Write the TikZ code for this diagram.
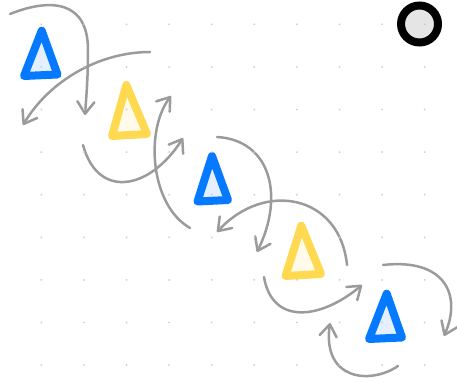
\documentclass[tikz,border=0pt]{standalone}
\usetikzlibrary{arrows.meta}

\definecolor{triblue}{RGB}{5,122,255}
\definecolor{triyellow}{RGB}{255,218,80}
\definecolor{paleblue}{RGB}{228,239,255}
\definecolor{paleyellow}{RGB}{255,250,234}
\definecolor{arrgray}{RGB}{155,155,155}

\begin{document}
\begin{tikzpicture} [x=1pt, y=-1pt,
  bluetri/.style={draw=triblue, fill=paleblue, line width=8pt, line join=round},
  yellowtri/.style={draw=triyellow, fill=paleyellow, line width=8pt, line join=round},
  arr/.style={arrgray, line width=2.5pt, line cap=round, -{Straight Barb[length=12pt, width=17pt, round]}}]
\useasboundingbox (0,0) rectangle (457,382);

\draw[black, line width=8pt, fill={rgb,255:red,229;green,229;blue,229}] (419.5,24) circle (18.5);

\draw[bluetri] (41.7,30.7) -- (24,76) -- (57.5,74.5) -- cycle;
\draw[yellowtri] (126.3,85) -- (112,136) -- (147,134) -- cycle;
\draw[bluetri] (212,156) -- (197.5,201.5) -- (228,200) -- cycle;
\draw[yellowtri] (301.3,225.7) -- (285.5,276) -- (321,274) -- cycle;
\draw[bluetri] (386.7,293.7) -- (369,339) -- (402,337.5) -- cycle;

\draw[arr] (10,14) .. controls (50,-2) and (88,0) .. (88,50) .. controls (88,80) and (86,100) .. (85,115);
\draw[arr] (150,52) .. controls (100,52) and (50,80) .. (23,125);
\draw[arr] (83,145) .. controls (98,200) and (150,190) .. (183,138);
\draw[arr] (190,228) .. controls (150,205) and (145,130) .. (171,96);
\draw[arr] (217,137) .. controls (270,140) and (285,195) .. (257,252);
\draw[arr] (347,265) .. controls (340,195) and (265,180) .. (217,232);
\draw[arr] (264,277) .. controls (272,325) and (320,320) .. (362,285);
\draw[arr] (383,265) .. controls (445,258) and (462,295) .. (444,336);
\draw[arr] (398,366) .. controls (370,385) and (322,380) .. (330,323);

\foreach \x in {0,...,9} \foreach \y in {0,...,8}
  \fill[black!20] (41.3+42.6*\x, 24.3+42.6*\y) circle (1);

\end{tikzpicture}
\end{document}
